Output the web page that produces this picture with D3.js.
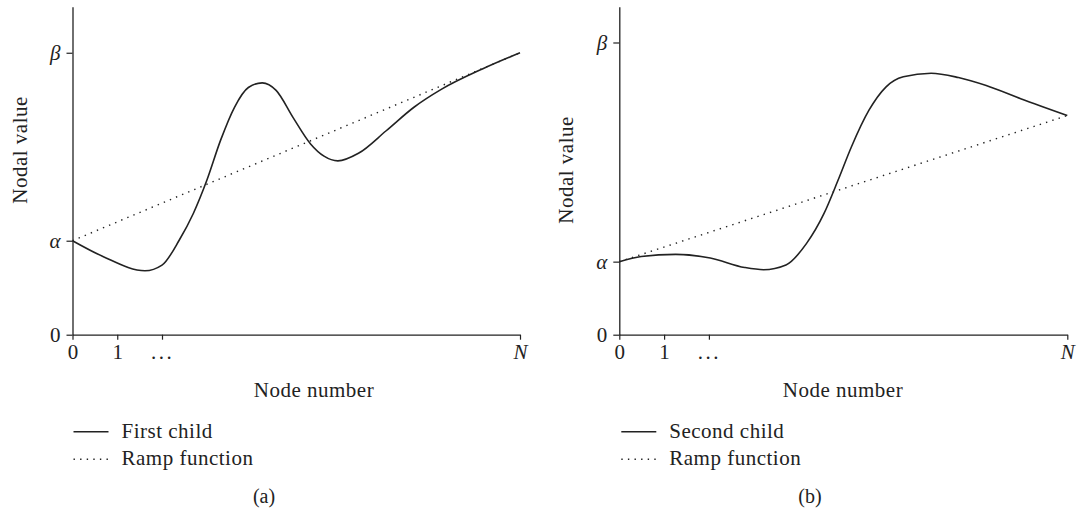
<!DOCTYPE html>
<html>
<head>
<meta charset="utf-8">
<script src="https://cdn.jsdelivr.net/npm/d3@7"></script>
<style>
  html, body { margin: 0; padding: 0; background: #fff; }
  svg { display: block; }
  text { font-family: "Liberation Serif", "Times New Roman", serif; fill: #222; }
</style>
</head>
<body>
<svg id="chart" width="1078" height="512"></svg>
<script>
// Node positions (0 … N, with N = 10) and nodal values, in units where α = 1.
const nodesFirst = [0, 0.69, 1.62, 2.0, 2.39, 2.7, 3.0, 3.31, 3.62, 3.93, 4.24, 4.55, 4.93, 5.32, 5.62, 5.93, 6.39, 7.01, 7.63, 8.24, 9.17, 10];
const firstChild = [1.0, 0.83, 0.68, 0.74, 1.01, 1.29, 1.64, 2.07, 2.42, 2.63, 2.68, 2.60, 2.31, 2.03, 1.90, 1.85, 1.93, 2.17, 2.42, 2.61, 2.83, 3.0];

const nodesSecond = [0, 0.49, 1.26, 2.03, 2.80, 3.22, 3.72, 4.18, 4.57, 4.88, 5.18, 5.57, 5.95, 6.34, 6.96, 7.57, 8.19, 8.96, 10];
const secondChild = [1.0, 1.07, 1.10, 1.05, 0.92, 0.89, 0.955, 1.25, 1.66, 2.11, 2.57, 3.07, 3.39, 3.53, 3.58, 3.52, 3.41, 3.23, 3.0];

// Ramp function: straight line from the left boundary value to the right one.
const rampNodes = [0, 10];
const rampFirst = [1, 3];
const rampSecond = [1, 3];

// Axis ticks
const xTickValues = [0, 1, 2, 10];
const xTickLabels = ["0", "1", "...", "N"];
const yTickValuesFirst = [0, 1, 3];
const yTickValuesSecond = [0, 1, 4];
const yTickLabels = ["0", "\u03B1", "\u03B2"];
const yMaxFirst = 3.49;
const yMaxSecond = 4.49;

const svg = d3.select("#chart");
const ink = "#222";
const textSize = "21px";

function drawPanel(p) {
  const x = d3.scaleLinear().domain([0, 10]).range([p.x0, p.x1]);
  const y = d3.scaleLinear().domain([0, p.yMax]).range([334.7, 6.7]);
  const g = svg.append("g");

  // Axes
  const xAxis = d3.axisBottom(x)
    .tickValues(xTickValues)
    .tickSizeInner(5).tickSizeOuter(0).tickPadding(4)
    .tickFormat((d, i) => xTickLabels[i]);
  const gx = g.append("g").attr("transform", `translate(0,${y(0)})`).call(xAxis);

  const yAxis = d3.axisLeft(y)
    .tickValues(p.yTicks)
    .tickSizeInner(6).tickSizeOuter(0).tickPadding(6)
    .tickFormat((d, i) => yTickLabels[i]);
  const gy = g.append("g").attr("transform", `translate(${x(0)},0)`).call(yAxis);

  [gx, gy].forEach(a => {
    a.select(".domain").attr("stroke", ink).attr("stroke-width", 1.3);
    a.selectAll(".tick line").attr("stroke", ink).attr("stroke-width", 1.2);
    a.selectAll(".tick text")
      .attr("fill", ink)
      .style("font-family", '"Liberation Serif", serif')
      .style("font-size", textSize);
  });
  gx.selectAll(".tick text")
    .style("font-style", (d, i) => xTickLabels[i] === "N" ? "italic" : "normal")
    .style("letter-spacing", (d, i) => xTickLabels[i] === "..." ? "2.5px" : null)
    .attr("dy", "0.72em");
  gy.selectAll(".tick text")
    .style("font-style", (d, i) => i > 0 ? "italic" : "normal");

  // Axis titles
  g.append("text")
    .attr("transform", `translate(${p.yTitleX},${p.yTitleY}) rotate(-90)`)
    .attr("text-anchor", "middle")
    .attr("dy", "0.35em")
    .style("font-size", textSize)
    .style("letter-spacing", "0.5px")
    .text("Nodal value");
  g.append("text")
    .attr("x", p.xTitleX).attr("y", 397)
    .attr("text-anchor", "middle")
    .style("font-size", textSize)
    .style("letter-spacing", "0.5px")
    .text("Node number");

  // Ramp function (dotted)
  const line = d3.line().x(d => x(d[0])).y(d => y(d[1]));
  g.append("path")
    .datum(rampNodes.map((n, i) => [n, p.ramp[i]]))
    .attr("d", line)
    .attr("fill", "none")
    .attr("stroke", ink)
    .attr("stroke-width", 1.4)
    .attr("stroke-dasharray", "1.4,5.2");

  // Child curve (solid)
  const smooth = d3.line().curve(d3.curveMonotoneX).x(d => x(d[0])).y(d => y(d[1]));
  g.append("path")
    .datum(p.nodes.map((n, i) => [n, p.values[i]]))
    .attr("d", smooth)
    .attr("fill", "none")
    .attr("stroke", ink)
    .attr("stroke-width", 1.6);

  // Legend
  const lx = p.x0 + p.legendDx;
  const rows = [
    { label: p.name, dash: null, y: 431.7 },
    { label: "Ramp function", dash: "1.4,5.2", y: 459.3 }
  ];
  rows.forEach(r => {
    g.append("line")
      .attr("x1", lx).attr("x2", lx + 35)
      .attr("y1", r.y).attr("y2", r.y)
      .attr("stroke", ink).attr("stroke-width", 1.5)
      .attr("stroke-dasharray", r.dash);
    g.append("text")
      .attr("x", lx + 48).attr("y", r.y + 6)
      .style("font-size", textSize)
      .style("letter-spacing", "0.5px")
      .text(r.label);
  });

  // Panel caption
  g.append("text")
    .attr("x", p.captionX).attr("y", 503)
    .attr("text-anchor", "middle")
    .style("font-size", "20px")
    .text(p.caption);
}

drawPanel({
  x0: 72.5, x1: 520, yMax: yMaxFirst, yTicks: yTickValuesFirst,
  nodes: nodesFirst, values: firstChild, ramp: rampFirst,
  name: "First child", caption: "(a)",
  yTitleX: 20, yTitleY: 150, xTitleX: 314, legendDx: 1, captionX: 264
});

drawPanel({
  x0: 619.3, x1: 1067.3, yMax: yMaxSecond, yTicks: yTickValuesSecond,
  nodes: nodesSecond, values: secondChild, ramp: rampSecond,
  name: "Second child", caption: "(b)",
  yTitleX: 566, yTitleY: 170, xTitleX: 843, legendDx: 2, captionX: 810
});
</script>
</body>
</html>
